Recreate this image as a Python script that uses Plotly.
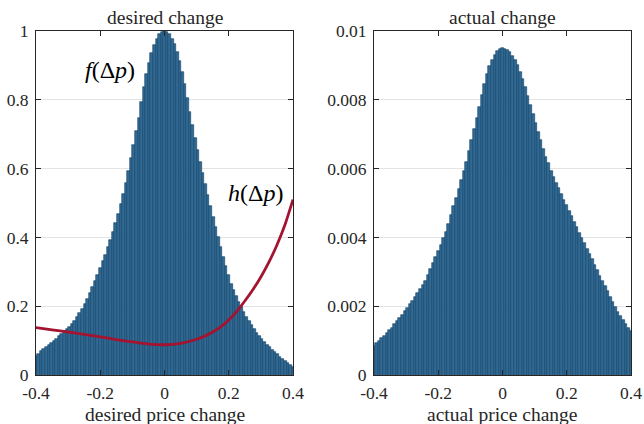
import numpy as np
import plotly.graph_objects as go

# bin centres of the price-change histograms
bin_centers = np.round(np.linspace(-0.4, 0.4, 101), 3)

desired_density = [
    0.056, 0.062, 0.069, 0.075, 0.081, 0.088, 0.094, 0.100, 0.106, 0.113,
    0.119, 0.126, 0.133, 0.140, 0.147, 0.157, 0.168, 0.180, 0.193, 0.207,
    0.222, 0.238, 0.255, 0.273, 0.292, 0.311, 0.330, 0.350, 0.371, 0.393,
    0.416, 0.441, 0.467, 0.496, 0.526, 0.558, 0.592, 0.630, 0.668, 0.708,
    0.748, 0.793, 0.836, 0.875, 0.908, 0.936, 0.959, 0.977, 0.990, 0.997,
    1.000,
    0.997, 0.990, 0.978, 0.961, 0.939, 0.913, 0.882, 0.846, 0.806, 0.766,
    0.728, 0.690, 0.654, 0.619, 0.586, 0.554, 0.522, 0.490, 0.459, 0.429,
    0.400, 0.372, 0.344, 0.317, 0.290, 0.266, 0.247, 0.229, 0.212, 0.197,
    0.183, 0.169, 0.156, 0.144, 0.133, 0.123, 0.114, 0.105, 0.096, 0.088,
    0.080, 0.073, 0.066, 0.060, 0.053, 0.046, 0.040, 0.034, 0.028, 0.022,
]

actual_density = [
    0.00085, 0.00092, 0.00100, 0.00107, 0.00114, 0.00122, 0.00130, 0.00138, 0.00147, 0.00156,
    0.00165, 0.00175, 0.00185, 0.00195, 0.00205, 0.00216, 0.00227, 0.00239, 0.00251, 0.00263,
    0.00273, 0.00290, 0.00307, 0.00325, 0.00343, 0.00361, 0.00379, 0.00397, 0.00417, 0.00440,
    0.00465, 0.00490, 0.00515, 0.00541, 0.00567, 0.00593, 0.00620, 0.00650, 0.00682, 0.00714,
    0.00747, 0.00780, 0.00813, 0.00846, 0.00874, 0.00897, 0.00916, 0.00931, 0.00942, 0.00948,
    0.00950,
    0.00949, 0.00945, 0.00938, 0.00928, 0.00915, 0.00900, 0.00882, 0.00861, 0.00838, 0.00812,
    0.00785, 0.00759, 0.00733, 0.00707, 0.00682, 0.00657, 0.00635, 0.00615, 0.00593, 0.00576,
    0.00559, 0.00543, 0.00526, 0.00510, 0.00494, 0.00478, 0.00462, 0.00446, 0.00430, 0.00414,
    0.00398, 0.00383, 0.00367, 0.00352, 0.00336, 0.00320, 0.00305, 0.00289, 0.00274, 0.00258,
    0.00243, 0.00227, 0.00212, 0.00197, 0.00184, 0.00172, 0.00160, 0.00149, 0.00138, 0.00127,
]

# hazard function h(dp)
h_x = [-0.40, -0.35, -0.30, -0.25, -0.20, -0.15, -0.10, -0.05, 0.00,
       0.05, 0.10, 0.125, 0.15, 0.175, 0.20, 0.225, 0.25, 0.275, 0.30,
       0.325, 0.35, 0.375, 0.40]
h_y = [0.138, 0.131, 0.125, 0.118, 0.111, 0.103, 0.096, 0.090, 0.088,
       0.092, 0.104, 0.113, 0.125, 0.140, 0.160, 0.185, 0.215, 0.248, 0.285,
       0.328, 0.378, 0.437, 0.510]

x_tickvals = [-0.4, -0.2, 0, 0.2, 0.4]
x_ticktext = ["-0.4", "-0.2", "0", "0.2", "0.4"]
y1_tickvals = [0, 0.2, 0.4, 0.6, 0.8, 1]
y1_ticktext = ["0", "0.2", "0.4", "0.6", "0.8", "1"]
y2_tickvals = [0, 0.002, 0.004, 0.006, 0.008, 0.01]
y2_ticktext = ["0", "0.002", "0.004", "0.006", "0.008", "0.01"]

BAR_FILL = "rgb(50,106,148)"
BAR_EDGE = "rgb(14,62,100)"
RED = "#A2142F"
AX = "#262626"
FONT = "Liberation Serif, Times New Roman, DejaVu Serif, serif"
TICK_SIZE = 17.5
TITLE_SIZE = 19.5

fig = go.Figure()
fig.add_trace(go.Bar(x=bin_centers, y=desired_density, width=0.008,
                     marker=dict(color=BAR_FILL, line=dict(color=BAR_EDGE, width=0.6)),
                     xaxis="x", yaxis="y", showlegend=False))
fig.add_trace(go.Scatter(x=h_x, y=h_y, mode="lines",
                         line=dict(color=RED, width=2.8, shape="spline", smoothing=0.6),
                         xaxis="x", yaxis="y", showlegend=False))
fig.add_trace(go.Bar(x=bin_centers, y=actual_density, width=0.008,
                     marker=dict(color=BAR_FILL, line=dict(color=BAR_EDGE, width=0.6)),
                     xaxis="x2", yaxis="y2", showlegend=False))

W, H = 644, 424
left1, right1 = 36 / W, 293 / W
left2, right2 = 374 / W, 631 / W
top, bottom = 1 - 31 / H, 1 - 375 / H
xlabel_y = 1 - 414.5 / H

common_x = dict(range=[-0.4, 0.4], tickvals=x_tickvals, ticktext=x_ticktext,
                ticks="inside", ticklen=5, tickcolor=AX, showline=True, linecolor=AX,
                linewidth=1, mirror="ticks", showgrid=False, zeroline=False,
                automargin=False, ticklabelstandoff=2,
                tickfont=dict(family=FONT, size=TICK_SIZE, color=AX))
common_y = dict(ticks="inside", ticklen=5, tickcolor=AX, showline=True, linecolor=AX,
                linewidth=1, mirror="ticks", showgrid=True, gridcolor="#e3e3e3",
                gridwidth=1, zeroline=False, automargin=False, ticklabelstandoff=3,
                tickfont=dict(family=FONT, size=TICK_SIZE, color=AX))

fig.update_layout(
    width=W, height=H,
    margin=dict(l=0, r=0, t=0, b=0, autoexpand=False),
    paper_bgcolor="white", plot_bgcolor="white",
    bargap=0,
    font=dict(family=FONT),
    xaxis=dict(domain=[left1, right1], anchor="y", **common_x),
    yaxis=dict(domain=[bottom, top], anchor="x", range=[0, 1],
               tickvals=y1_tickvals, ticktext=y1_ticktext, **common_y),
    xaxis2=dict(domain=[left2, right2], anchor="y2", **common_x),
    yaxis2=dict(domain=[bottom, top], anchor="x2", range=[0, 0.01],
                tickvals=y2_tickvals, ticktext=y2_ticktext, **common_y),
    annotations=[
        dict(text="desired change", x=(left1 + right1) / 2, y=top, xref="paper", yref="paper",
             xanchor="center", yanchor="bottom", yshift=1, showarrow=False,
             font=dict(family=FONT, size=TITLE_SIZE, color=AX)),
        dict(text="actual change", x=(left2 + right2) / 2, y=top, xref="paper", yref="paper",
             xanchor="center", yanchor="bottom", yshift=1, showarrow=False,
             font=dict(family=FONT, size=TITLE_SIZE, color=AX)),
        dict(text="desired price change", x=(left1 + right1) / 2, y=xlabel_y, xref="paper", yref="paper",
             xanchor="center", yanchor="middle", showarrow=False,
             font=dict(family=FONT, size=TITLE_SIZE, color=AX)),
        dict(text="actual price change", x=(left2 + right2) / 2, y=xlabel_y, xref="paper", yref="paper",
             xanchor="center", yanchor="middle", showarrow=False,
             font=dict(family=FONT, size=TITLE_SIZE, color=AX)),
        dict(text="<i>f</i>(Δ<i>p</i>)", x=-0.17, y=0.887, xref="x", yref="y",
             showarrow=False, font=dict(family=FONT, size=24, color="black")),
        dict(text="<i>h</i>(Δ<i>p</i>)", x=0.282, y=0.53, xref="x", yref="y",
             showarrow=False, font=dict(family=FONT, size=24, color="black")),
    ],
)

fig.write_html("out.html")
